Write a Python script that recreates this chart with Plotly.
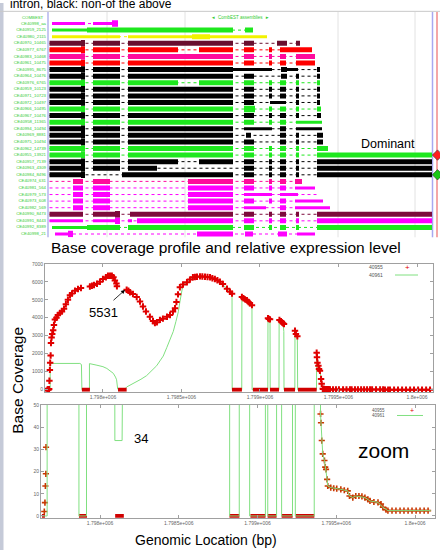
import plotly.graph_objects as go

W, H = 440, 551
FONT = "Arial, Liberation Sans, sans-serif"

# ---------------- genome browser (EST assemblies) ----------------
track_names = ["CE40998_aa", "CE40959_2125", "CE40980_2115", "CE40970_10465", "CE40977_6767",
               "CE40983_10468", "CE40961_10475", "CE40995_8675", "CE40964_10476", "CE40976_6765",
               "CE40959_10123", "CE40971_10723", "CE40972_10497", "CE40966_10495", "CE40967_10476",
               "CE40958_11365", "CE40994_10494", "CE40969_8881", "CE40975_10494", "CE40962_14739",
               "CE40955_13921", "CE40957_7139", "CE40963_4309", "CE40984_8496", "CE40974_631",
               "CE40981_564", "CE40979_573", "CE40973_608", "CE40982_569", "CE40990_8473",
               "CE40991_8443", "CE40992_8389", "CE40998_21"]
track_colors = ["#ff00ff", "#1ee81e", "#f2f200", "#6a0f2e", "#ff0000",
                "#ff0a9c", "#ff0000", "#000000", "#000000", "#1ee81e",
                "#000000", "#000000", "#000000", "#1ee81e", "#000000",
                "#1ee81e", "#000000", "#000000", "#000000", "#1ee81e",
                "#1ee81e", "#000000", "#000000", "#000000", "#ff0a9c",
                "#ff00ff", "#ff00ff", "#ff00ff", "#ff00ff", "#7d0b3c",
                "#ff00ff", "#1ee81e", "#ff00ff"]
track_spans = [(52, 118), (52, 253), (52, 267), (49.5, 300), (49.5, 312),
               (49.5, 315), (49.5, 315), (49.5, 320), (49.5, 320), (49.5, 320),
               (49.5, 320), (49.5, 320), (49.5, 320), (49.5, 321), (49.5, 321),
               (49.5, 322), (49.5, 322), (49.5, 323), (49.5, 323), (49.5, 328),
               (49.5, 432), (49.5, 432), (49.5, 432), (49.5, 432), (49.5, 302),
               (49.5, 315), (49.5, 318), (49.5, 323), (49.5, 330), (49.5, 432),
               (49.5, 432), (52, 432), (55, 315)]
track_blocks = [
    [(52, 85, "m"), (93, 112, "m"), (112, 118, "T")],
    [(52, 87, "m"), (87, 233, "t"), (245, 253, "t")],
    [(52, 120, "m"), (128, 192, "m"), (192, 210, "t"), (210, 267, "m")],
    [(49.5, 81, "t"), (81, 85, "T"), (93, 120, "t"), (128, 233, "t"), (244, 254, "t"), (277, 287, "t"), (296, 300, "t")],
    [(49.5, 81, "t"), (81, 85, "T"), (93, 120, "t"), (128, 178, "t"), (199, 233, "t"), (244, 254, "t"), (269, 272, "t"), (280, 312, "t")],
    [(49.5, 81, "t"), (81, 85, "T"), (93, 120, "t"), (128, 233, "t"), (244, 254, "t"), (269, 272, "t"), (280, 286, "t"), (296, 315, "t")],
    [(49.5, 81, "t"), (81, 85, "T"), (93, 120, "t"), (128, 233, "t"), (244, 254, "t"), (269, 272, "t"), (280, 286, "t"), (296, 315, "t")],
    [(49.5, 81, "t"), (81, 85, "T"), (93, 120, "t"), (128, 233, "t"), (233, 272, "m"), (281, 287, "t"), (287, 298, "m"), (317, 320, "t")],
    [(49.5, 81, "t"), (81, 85, "T"), (93, 120, "t"), (128, 233, "t"), (244, 254, "t"), (281, 287, "t"), (296, 299, "t"), (317, 320, "t")],
    [(49.5, 81, "t"), (81, 85, "T"), (93, 120, "t"), (128, 178, "t"), (199, 233, "t"), (244, 254, "t"), (269, 272, "t"), (280, 286, "t"), (296, 299, "t"), (317, 320, "t")],
    [(49.5, 81, "t"), (81, 85, "T"), (93, 120, "t"), (128, 233, "t"), (244, 254, "t"), (269, 272, "t"), (280, 286, "t"), (296, 299, "t"), (317, 320, "t")],
    [(49.5, 81, "t"), (81, 85, "T"), (93, 120, "t"), (128, 233, "t"), (244, 254, "t"), (269, 272, "t"), (280, 286, "t"), (296, 299, "t"), (317, 320, "t")],
    [(49.5, 81, "t"), (81, 85, "T"), (93, 120, "t"), (128, 233, "t"), (244, 254, "t"), (270, 286, "m"), (296, 299, "t"), (317, 320, "t")],
    [(49.5, 81, "t"), (81, 85, "T"), (93, 120, "t"), (128, 233, "t"), (244, 255, "T"), (269, 272, "t"), (280, 286, "t"), (296, 299, "t"), (317, 321, "t")],
    [(49.5, 81, "t"), (81, 85, "T"), (93, 120, "t"), (128, 233, "t"), (244, 254, "t"), (269, 272, "t"), (280, 286, "t"), (296, 299, "t"), (317, 321, "t")],
    [(49.5, 81, "t"), (81, 85, "T"), (93, 120, "t"), (128, 233, "t"), (244, 254, "t"), (269, 272, "t"), (280, 286, "t"), (296, 322, "m")],
    [(49.5, 81, "t"), (81, 85, "T"), (93, 120, "t"), (128, 233, "t"), (244, 272, "m"), (280, 286, "t"), (296, 322, "m")],
    [(49.5, 81, "t"), (81, 85, "T"), (93, 120, "t"), (128, 233, "t"), (246, 251, "t"), (280, 286, "t"), (296, 299, "t"), (317, 323, "t")],
    [(49.5, 81, "t"), (81, 85, "T"), (93, 120, "t"), (128, 233, "t"), (244, 254, "t"), (280, 286, "t"), (296, 299, "t"), (317, 323, "t")],
    [(49.5, 81, "t"), (81, 85, "T"), (93, 120, "t"), (128, 233, "t"), (244, 254, "t"), (269, 272, "t"), (280, 286, "t"), (296, 299, "t"), (317, 328, "t")],
    [(49.5, 81, "t"), (81, 85, "T"), (93, 120, "t"), (128, 233, "t"), (244, 254, "t"), (269, 272, "t"), (280, 286, "t"), (296, 299, "t"), (317, 432, "t")],
    [(49.5, 81, "t"), (81, 85, "T"), (93, 120, "t"), (128, 178, "t"), (199, 233, "t"), (244, 254, "t"), (269, 272, "t"), (280, 286, "t"), (296, 299, "t"), (317, 432, "t")],
    [(49.5, 81, "t"), (81, 85, "T"), (93, 120, "t"), (128, 157, "t"), (244, 254, "t"), (269, 272, "t"), (280, 286, "t"), (296, 299, "t"), (317, 432, "t")],
    [(49.5, 81, "t"), (81, 85, "T"), (122, 233, "t"), (244, 254, "t"), (269, 272, "t"), (280, 286, "t"), (296, 299, "t"), (317, 432, "t")],
    [(73, 83, "t"), (93, 110, "t"), (188, 233, "t"), (244, 254, "t"), (269, 272, "t"), (280, 286, "t"), (295, 302, "t")],
    [(73, 83, "t"), (93, 110, "t"), (188, 233, "t"), (244, 254, "t"), (269, 272, "t"), (280, 286, "t"), (295, 315, "m")],
    [(73, 83, "t"), (93, 110, "t"), (188, 233, "t"), (244, 272, "m"), (280, 298, "m")],
    [(73, 83, "t"), (93, 110, "t"), (188, 233, "t"), (244, 254, "t"), (269, 272, "t"), (280, 286, "t"), (295, 323, "m")],
    [(73, 83, "t"), (93, 110, "t"), (188, 233, "t"), (244, 266, "m"), (280, 286, "t"), (295, 330, "m")],
    [(49.5, 83, "t"), (93, 115, "t"), (115, 120, "T"), (130, 233, "t"), (244, 254, "t"), (269, 272, "t"), (280, 286, "t"), (296, 299, "t"), (317, 432, "t")],
    [(49.5, 83, "m"), (93, 115, "m"), (115, 120, "T"), (128, 132, "m"), (137, 233, "t"), (244, 254, "t"), (269, 272, "t"), (280, 286, "t"), (296, 299, "t"), (317, 432, "t")],
    [(52, 87, "m"), (87, 120, "t"), (128, 233, "t"), (244, 254, "t"), (269, 272, "t"), (280, 286, "t"), (296, 299, "t"), (317, 432, "t")],
    [(55, 68, "m"), (68, 73, "T"), (197, 233, "t"), (245, 253, "t"), (278, 287, "t"), (297, 315, "m")],
]
browser_grid = [107, 185, 338, 415]
dominant_rows = [20, 23]
dominant_colors = ["#ff2020", "#18c818"]

# ---------------- base coverage (40955) and expression (40961) ----------------
cov_pos = [1797646, 1797650, 1797653, 1797656, 1797657,
           1797659, 1797662, 1797664, 1797667, 1797669, 1797673, 1797677, 1797683, 1797688, 1797694,
           1797704, 1797713, 1797726, 1797739, 1797752, 1797764, 1797777, 1797790, 1797803, 1797822,
           1797841, 1797860,
           1797917, 1797930, 1797943, 1797962, 1797981, 1798000, 1798019, 1798032, 1798045, 1798057,
           1798067, 1798076, 1798086, 1798089,
           1798151, 1798162, 1798172, 1798191, 1798215, 1798236, 1798255, 1798274, 1798299, 1798319,
           1798331, 1798344, 1798363, 1798382, 1798408, 1798427, 1798446, 1798459, 1798468, 1798478,
           1798490, 1798510, 1798535, 1798554, 1798573, 1798586, 1798599, 1798618, 1798633, 1798650,
           1798666, 1798682, 1798697, 1798713, 1798729, 1798745, 1798764, 1798790, 1798809, 1798822,
           1798885, 1798895, 1798905, 1798917, 1798927, 1798936, 1798949,
           1799051, 1799057, 1799064,
           1799124, 1799134, 1799141, 1799147, 1799153,
           1799223, 1799229, 1799238,
           1799361, 1799363, 1799366, 1799372, 1799376, 1799382, 1799389, 1799393,
           1799400, 1799403, 1799408, 1799414, 1799425, 1799430, 1799435, 1799442, 1799446, 1799465,
           1799484, 1799503, 1799529, 1799551, 1799573, 1799584, 1799605, 1799624, 1799644, 1799663,
           1799682, 1799701, 1799714, 1799739, 1799765, 1799784, 1799796, 1799816, 1799828, 1799854,
           1799879, 1799905, 1799930, 1799956, 1799981, 1800007, 1800032, 1800058, 1800083]
cov_val = [2, 6, 13.5, 19, 31,
           500, 1100, 1500, 1900, 2600, 2900, 3100, 3300, 3600, 3900,
           4000, 4150, 4260, 4350, 4500, 4750, 5000, 5250, 5350, 5500,
           5600, 5650,
           5740, 5780, 5820, 5890, 6000, 6150, 6250, 6340, 6330, 6340,
           6250, 6070, 5900, 5750,
           5560, 5500, 5420, 5320, 5150, 4900, 4620, 4350, 4060, 3820,
           3700, 3750, 3880, 3950, 4060, 4150, 4350, 4530, 4880, 5300,
           5700, 5850, 5970, 6120, 6250, 6270, 6280, 6300, 6290, 6280,
           6265, 6250, 6200, 6150, 6080, 6000, 5880, 5610, 5450, 5340,
           5150, 5080, 5020, 4970, 4880, 4800, 4700,
           3970, 3930, 3910,
           3880, 3800, 3740, 3690, 3650,
           3280, 3100, 2970,
           2060, 1800, 1500, 1330, 1150, 1050, 600, 330,
           46, 42, 34, 28, 25, 22, 21, 16.5, 13.5, 12.8,
           12.5, 12.3, 12, 11.6, 11.3, 9, 8.3, 9, 9, 8.8,
           8.3, 7.5, 6.8, 6.3, 6.1, 5.4, 3.9, 2.8, 2.4, 2.4,
           2.4, 2.4, 2.4, 2.4, 2.4, 2.4, 2.4, 2.4, 2.4]
zero_runs = [(1797631, 1797650), (1797866, 1797917), (1798096, 1798151), (1798822, 1798885),
             (1798955, 1799051), (1799064, 1799121), (1799153, 1799223), (1799242, 1799361)]
expr_pos = [1797631, 1797664, 1797664, 1797853, 1797863, 1797866, 1797914, 1797914, 1797962, 1798000,
            1798025, 1798051, 1798066, 1798080, 1798087, 1798094, 1798140, 1798151, 1798178, 1798215,
            1798242, 1798278, 1798306, 1798342, 1798363, 1798384, 1798406, 1798427, 1798448, 1798465,
            1798480, 1798490, 1798501, 1798510, 1798535, 1798573, 1798618, 1798682, 1798745, 1798790,
            1798822, 1798823, 1798884, 1798885, 1798917, 1798949, 1798950, 1799050, 1799051, 1799064,
            1799065, 1799121, 1799122, 1799147, 1799152, 1799153, 1799222, 1799223, 1799238, 1799240,
            1799360, 1799361, 1799372, 1799382, 1799393, 1799400, 1799403, 1799408, 1799414, 1799425,
            1799435, 1799442, 1799446, 1799465, 1799529, 1799573, 1799584, 1799605, 1799624, 1799682,
            1799714, 1799765, 1799796, 1799828, 1800100]
expr_val = [0, 0, 1460, 1460, 1400, 0, 0, 1450, 1360, 1280,
            1180, 1000, 910, 700, 550, 34, 34, 150, 270, 415,
            580, 780, 1000, 1330, 1600, 1870, 2330, 2790, 3240, 3800,
            4330, 4880, 5520, 5850, 5970, 6250, 6300, 6250, 6000, 5610,
            5340, 0, 0, 5150, 4970, 4700, 0, 0, 3970, 3910,
            0, 0, 3880, 3690, 3240, 0, 0, 3280, 2970, 0,
            0, 2060, 1330, 1050, 330, 46, 42, 34, 28, 25,
            21, 16.5, 13.5, 12.8, 12, 11.3, 9, 8.3, 9, 8.3,
            6.8, 6.1, 3.9, 2.4, 2.4]
tick_pos = [1798000, 1798500, 1799000, 1799500, 1800000]
tick_text = ["1.798e+006", "1.7985e+006", "1.799e+006", "1.7995e+006", "1.8e+006"]
series_names = ["40955", "40961"]


def px(x):
    return x / W


def py(y):
    return 1 - y / H


fig = go.Figure()

# ---- browser traces ----
widths = {"m": 3, "t": 5, "T": 6.5}
colors_unique = []
for c in track_colors:
    if c not in colors_unique:
        colors_unique.append(c)
for col in colors_unique:
    xs, ys = [], []
    for k, (c, (s, e)) in enumerate(zip(track_colors, track_spans)):
        if c == col:
            xs += [s, e, None]
            ys += [k, k, None]
    fig.add_trace(go.Scatter(x=xs, y=ys, mode="lines", xaxis="x", yaxis="y",
                             line=dict(color=col, width=1, dash="dot"),
                             hoverinfo="skip", showlegend=False))
for size in ["m", "t", "T"]:
    for col in colors_unique:
        xs, ys = [], []
        for k, (c, blocks) in enumerate(zip(track_colors, track_blocks)):
            if c != col:
                continue
            for s, e, sz in blocks:
                if sz == size:
                    xs += [s, e, None]
                    ys += [k, k, None]
        if xs:
            fig.add_trace(go.Scatter(x=xs, y=ys, mode="lines", xaxis="x", yaxis="y",
                                     line=dict(color=col, width=widths[size]),
                                     hoverinfo="skip", showlegend=False))
fig.add_trace(go.Scatter(x=[46] * len(track_names), y=list(range(len(track_names))),
                         mode="text", text=track_names, textposition="middle left",
                         textfont=dict(size=4.3, color="#33cc33", family=FONT),
                         xaxis="x", yaxis="y", hoverinfo="skip", showlegend=False,
                         cliponaxis=False))
fig.add_trace(go.Scatter(x=[437.5] * len(dominant_rows), y=dominant_rows, mode="markers",
                         marker=dict(symbol="diamond", size=8, color=dominant_colors,
                                     line=dict(color="#333", width=0.6)),
                         xaxis="x", yaxis="y", hoverinfo="skip", showlegend=False,
                         cliponaxis=False))

# ---- coverage plots ----
zx, zy = [], []
for s, e in zero_runs:
    zx += [s, e, None]
    zy += [0, 0, None]

red = "#e00000"
# top panel
fig.add_trace(go.Scatter(x=expr_pos, y=expr_val, mode="lines", xaxis="x2", yaxis="y2",
                         line=dict(color="#80e080", width=1), showlegend=False))
fig.add_trace(go.Scatter(x=zx, y=zy, mode="lines", xaxis="x2", yaxis="y2",
                         line=dict(color="#d00000", width=4), showlegend=False))
fig.add_trace(go.Scatter(x=cov_pos, y=cov_val, mode="markers", xaxis="x2", yaxis="y2",
                         marker=dict(symbol="cross-thin-open", size=4.6, color=red,
                                     line=dict(color="#d40000", width=2)),
                         cliponaxis=False, showlegend=False))
# bottom (zoom) panel
low_x = [x for x, v in zip(cov_pos, cov_val) if v <= 50]
low_v = [v for v in cov_val if v <= 50]
fig.add_trace(go.Scatter(x=zx, y=zy, mode="lines", xaxis="x3", yaxis="y3",
                         line=dict(color="#d00000", width=4), showlegend=False))
fig.add_trace(go.Scatter(x=low_x, y=low_v, mode="markers", xaxis="x3", yaxis="y3",
                         marker=dict(symbol="cross-thin-open", size=4.4, color="#c83800",
                                     line=dict(color="#c83800", width=1.6)),
                         cliponaxis=False, showlegend=False))
fig.add_trace(go.Scatter(x=expr_pos, y=expr_val, mode="lines", xaxis="x3", yaxis="y3",
                         line=dict(color="#80e080", width=1), showlegend=False))

axis_common = dict(showgrid=False, zeroline=False, showline=True, linecolor="#a0a0a0",
                   linewidth=1, mirror="ticks", ticks="inside", ticklen=3, tickcolor="#a0a0a0",
                   tickfont=dict(size=5, color="#666666", family=FONT))

fig.update_layout(
    width=W, height=H, margin=dict(l=0, r=0, t=0, b=0),
    paper_bgcolor="white", plot_bgcolor="white", showlegend=False,
    xaxis=dict(domain=[0, 1], range=[0, 440], visible=False, fixedrange=True),
    yaxis=dict(domain=[py(236), py(8)], range=[32.5, -1.917], visible=False),
    xaxis2=dict(domain=[px(45), px(432.7)], range=[1797631, 1800100], anchor="y2",
                tickvals=tick_pos, ticktext=tick_text, **axis_common),
    yaxis2=dict(domain=[py(391.5), py(262.7)], range=[-110, 7000], anchor="x2",
                tickvals=[0, 1000, 2000, 3000, 4000, 5000, 6000, 7000], **axis_common),
    xaxis3=dict(domain=[px(41), px(435)], range=[1797625, 1800127], anchor="y3",
                tickvals=tick_pos, ticktext=tick_text, **axis_common),
    yaxis3=dict(domain=[py(518.5), py(405)], range=[-0.8, 50], anchor="x3",
                tickvals=[0, 10, 20, 30, 40, 50], **axis_common),
)

shapes = [
    dict(type="rect", xref="paper", yref="paper", x0=0, x1=px(3.5), y0=0, y1=1,
         fillcolor="#c5cad8", line=dict(width=0), layer="above"),
    dict(type="line", xref="paper", yref="paper", x0=0, x1=1, y0=py(8.4), y1=py(8.4),
         line=dict(color="#c8c8c8", width=1)),
    dict(type="line", xref="x", yref="paper", x0=48, x1=48, y0=py(236), y1=py(9),
         line=dict(color="#b4b4ee", width=1.5), layer="below"),
    dict(type="line", xref="x", yref="paper", x0=432.5, x1=432.5, y0=py(236), y1=py(9),
         line=dict(color="#a8a8f0", width=1.5), layer="below"),
    dict(type="line", xref="x", yref="paper", x0=437, x1=437, y0=py(236), y1=py(9),
         line=dict(color="#f08a8a", width=1.5), layer="below"),
]
for gx in browser_grid:
    shapes.append(dict(type="line", xref="x", yref="paper", x0=gx, x1=gx, y0=py(236), y1=py(9),
                       line=dict(color="#e2e2e2", width=1), layer="below"))
# legend sample lines
shapes.append(dict(type="line", xref="paper", yref="paper", x0=px(395), x1=px(418),
                   y0=py(274), y1=py(274), line=dict(color="#80e080", width=1)))
shapes.append(dict(type="line", xref="paper", yref="paper", x0=px(397), x1=px(423),
                   y0=py(415.5), y1=py(415.5), line=dict(color="#80e080", width=1)))
fig.update_layout(shapes=shapes)


def ann(text, x, y, size, color="black", xanchor="center", yanchor="middle", **kw):
    return dict(text=text, x=px(x), y=py(y), xref="paper", yref="paper", showarrow=False,
                xanchor=xanchor, yanchor=yanchor, font=dict(size=size, color=color, family=FONT), **kw)


annotations = [
    ann("intron, black: non-of the above", 8, 1.5, 12, xanchor="left"),
    ann("COMBEST", 46, 15, 4.3, color="#33cc33", xanchor="right"),
    ann("◄  CombEST assemblies  ►", 240, 15, 4.5, color="#33cc33"),
    ann("Dominant", 388, 141.7, 12.5),
    ann("Base coverage profile and relative expression level", 226, 246, 15.5),
    ann("Base Coverage", 17.5, 380, 15.5, textangle=-90),
    ann("Genomic Location (bp)", 206, 541, 14),
    ann("5531", 103, 312, 13),
    ann("34", 140.5, 438.5, 13),
    ann("zoom", 383, 451, 21),
    ann(series_names[0], 385, 266, 5, color="#555555", xanchor="right"),
    ann(series_names[1], 385, 274, 5, color="#555555", xanchor="right"),
    ann("+", 407, 266, 8, color=red),
    ann(series_names[0], 387, 410, 4.5, color="#555555", xanchor="right"),
    ann(series_names[1], 387, 415.5, 4.5, color="#555555", xanchor="right"),
    ann("+", 412, 410, 7, color=red),
    dict(x=px(125), y=py(289), ax=-13, ay=11.7, xref="paper", yref="paper",
         axref="pixel", ayref="pixel", text="", showarrow=True, arrowhead=2,
         arrowsize=1, arrowwidth=0.8, arrowcolor="black"),
]
fig.update_layout(annotations=annotations)

fig.write_html("out.html", config={"displayModeBar": False},
               post_script="document.body.style.margin='0';document.body.style.overflow='hidden';")
